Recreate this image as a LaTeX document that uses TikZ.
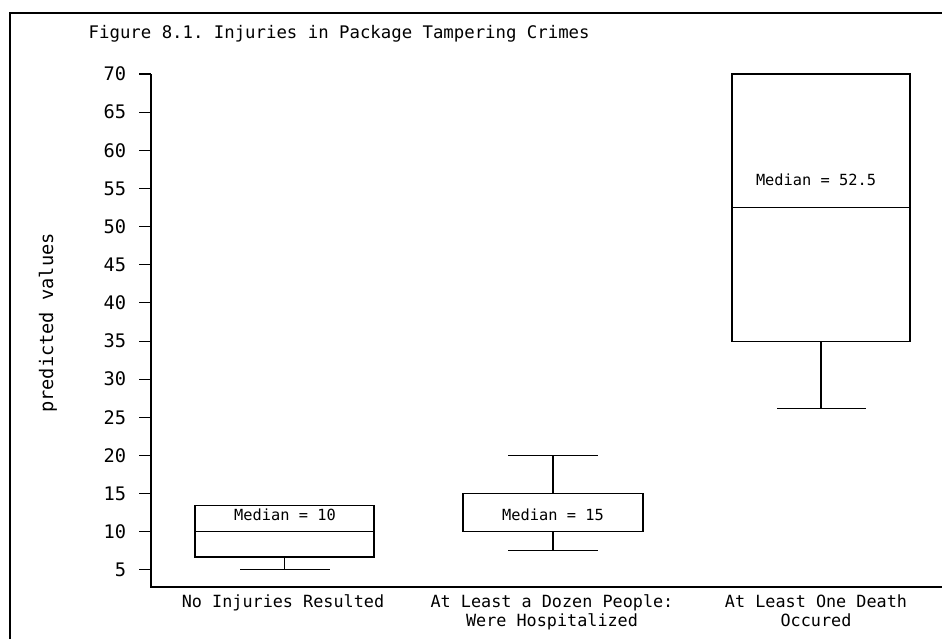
\documentclass[tikz,border=0pt]{standalone}
\usepackage{fontspec}
\setmonofont{DejaVu Sans Mono}
\tikzset{
  plotfont/.style={font=\ttfamily\fontsize{#1}{14.3pt}\selectfont},
  axisline/.style={line width=0.8pt},
  boxline/.style={line width=0.8pt},
}

\begin{document}
\begin{tikzpicture}[x=0.75pt,y=-0.75pt]
  \useasboundingbox (0,0) rectangle (942,639);
  % outer frame, only the top and left edges are seen
  \draw[line width=1.8pt] (10,639) -- (10,13) -- (942,13);
  \node[plotfont=13pt, anchor=west] (title) at (84,34) {Figure 8.1. Injuries in Package Tampering Crimes};

  % axes
  \draw[axisline] (151,74) -- (151,587) -- (942,587);
  \node[plotfont=14pt, rotate=90] (ylabel) at (48,323) {predicted values};

  \begin{scope}[shift={(0,608.1)},yscale=-7.63]
    % ticks and their labels
    \foreach \v in {5,10,...,70}
      \draw[axisline] (139,\v) -- (151,\v) node[plotfont=14pt, anchor=east, xshift=-6pt] (tick\v) at (139,\v) {\v};

    % no injuries
    \draw[boxline] (195,6.7) rectangle (374,13.4);
    \draw[boxline] (195,10) -- (374,10);               % median 10
    \draw[boxline] (284.5,6.7) -- (284.5,5);
    \draw[boxline] (240,5) -- (330,5);
    \draw[boxline] (240,13.4) -- (330,13.4);
    \node[plotfont=11.5pt] (med1) at (285,12.2) {Median = 10};

    % a dozen hospitalized
    \draw[boxline] (463,10) rectangle (643,15);         % median 15 on top edge
    \draw[boxline] (553,15) -- (553,20);
    \draw[boxline] (508,20) -- (598,20);
    \draw[boxline] (553,10) -- (553,7.5);
    \draw[boxline] (508,7.5) -- (598,7.5);
    \node[plotfont=11.5pt] (med2) at (553,12.2) {Median = 15};

    % one death
    \draw[boxline] (732,35) rectangle (910,70);
    \draw[boxline] (732,52.5) -- (910,52.5);            % median 52.5
    \draw[boxline] (821,35) -- (821,26.2);
    \draw[boxline] (777,26.2) -- (866,26.2);
    \draw[boxline] (777,70) -- (866,70);
    \node[plotfont=11.5pt] (med3) at (816,56.1) {Median = 52.5};
  \end{scope}

  % group names under the axis
  \node[plotfont=12.6pt, anchor=north] (grp1) at (283,590) {No Injuries Resulted};
  \node[plotfont=12.6pt, anchor=north, align=center] (grp2) at (552,590) {At Least a Dozen People:\\Were Hospitalized};
  \node[plotfont=12.6pt, anchor=north, align=center] (grp3) at (816,590) {At Least One Death\\Occured};
\end{tikzpicture}
\end{document}
